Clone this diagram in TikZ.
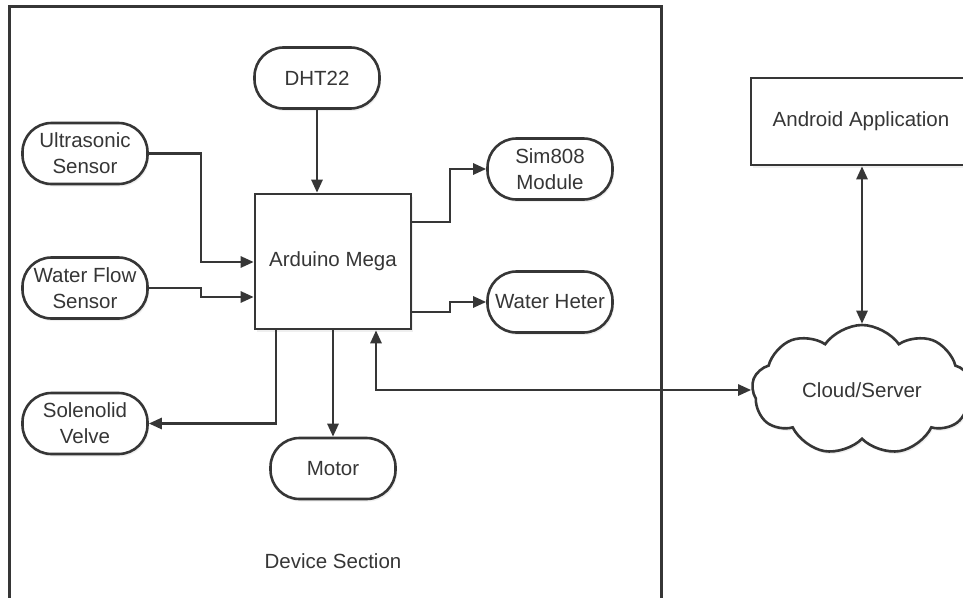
\documentclass[tikz,border=0pt]{standalone}
\usepackage{fontspec}
\setmainfont{Liberation Sans}
\usetikzlibrary{arrows.meta,shapes.symbols,shadows}
\definecolor{ink}{HTML}{363636}
\begin{document}
\begin{tikzpicture}[x=1pt,y=-1pt,
  every node/.style={font=\fontsize{20.5}{26}\selectfont, text=ink},
  base/.style={draw=ink, line width=2.6pt, fill=white, align=center, inner sep=0pt,
    drop shadow={opacity=0.12, shadow xshift=1.5pt, shadow yshift=-2.5pt}},
  pill/.style={base, rounded corners=29pt, minimum width=125pt, minimum height=61pt},
  boxnode/.style={base, rectangle},
  conn/.style={draw=ink, line width=2.6pt},
  arr/.style={conn, -{Triangle[length=13pt,width=11pt]}},
  darr/.style={conn, {Triangle[length=13pt,width=11pt]}-{Triangle[length=13pt,width=11pt]}}
]
\useasboundingbox (0,0) rectangle (963,597);
\clip (0,0) rectangle (963,597);
\fill[white] (0,0) rectangle (963,597);

% device section frame
\node[draw=ink, line width=2.6pt, minimum width=652pt, minimum height=640pt, inner sep=0pt, anchor=north west] (frame) at (8,5) {};
\node (devlabel) at (333,561) {Device Section};

% nodes
\node[pill] (dht) at (317,78) {DHT22};
\node[pill] (us) at (85,153.5) {Ultrasonic\\Sensor};
\node[pill] (wf) at (85,288) {Water Flow\\Sensor};
\node[boxnode, minimum width=156pt, minimum height=135pt] (ard) at (333,261.5) {Arduino Mega};
\node[pill] (sim) at (550,169) {Sim808\\Module};
\node[pill] (wh) at (550,302) {Water Heter};
\node[pill] (sol) at (85,423.5) {Solenolid\\Velve};
\node[pill] (mot) at (333,468.5) {Motor};

\node[boxnode, minimum width=220pt, minimum height=87pt] (andr) at (861,121.5) {Android Application};
\node[base, cloud, cloud puffs=9, cloud puff arc=110, cloud ignores aspect,
      minimum width=220pt, minimum height=130pt, inner sep=0pt] (cloud) at (862,390) {Cloud/Server};

% connectors
\draw[arr] (dht) -- (dht |- ard.north);
\draw[arr] (us.east) -- (201,153.5) |- (ard.west |- 0,262);
\draw[arr] (wf.east) -- (201,288) |- (ard.west |- 0,297);
\draw[arr] (ard.east |- 0,222) -- (450,222) |- (sim.west);
\draw[arr] (ard.east |- 0,312) -- (450,312) |- (wh.west);
\draw[arr] (ard.south -| 276,0) |- (sol.east);
\draw[arr] (ard) -- (mot);
\draw[darr] (ard.south -| 376,0) |- (cloud.west);
\draw[darr] (andr.south -| cloud.north) -- (cloud.north);
\end{tikzpicture}
\end{document}
